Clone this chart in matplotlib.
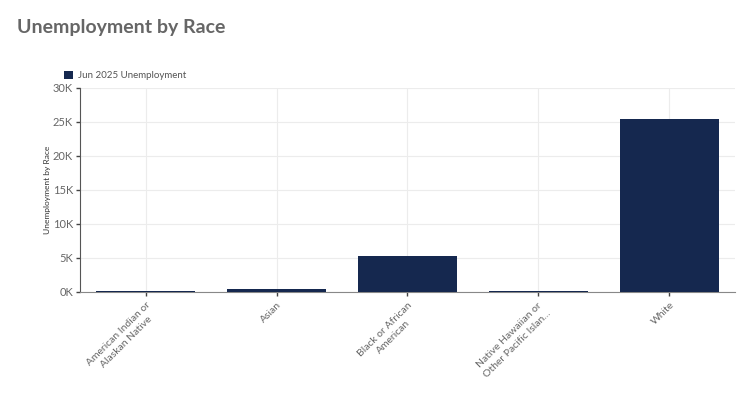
import matplotlib.pyplot as plt

# data
races = ['American Indian or\nAlaskan Native', 'Asian', 'Black or African\nAmerican',
         'Native Hawaiian or\nOther Pacific Islan...', 'White']
unemployment = [150, 420, 5300, 100, 25450]
series_label = 'Jun 2025 Unemployment'
y_ticks = [0, 5000, 10000, 15000, 20000, 25000, 30000]
y_tick_labels = ['0K', '5K', '10K', '15K', '20K', '25K', '30K']

plt.rcParams['font.family'] = ['Lato', 'DejaVu Sans']

fig = plt.figure(figsize=(7.45, 3.93), dpi=100)
ax = fig.add_axes([80 / 745, 1 - 292 / 393, 655 / 745, 204 / 393])

navy = '#15284f'
x = range(len(races))
ax.bar(x, unemployment, width=0.75, color=navy, label=series_label, zorder=3)

ax.set_xlim(-0.5, len(races) - 0.5)
ax.set_ylim(0, 30000)
ax.set_yticks(y_ticks)
ax.set_yticklabels(y_tick_labels)
ax.set_xticks(list(x))
ax.set_xticklabels(races, rotation=45, ha='right', rotation_mode='anchor',
                   multialignment='center', linespacing=1.35)

ax.tick_params(axis='y', labelsize=8, colors='#444444', labelcolor='#666666', length=3, width=1, pad=2)
ax.tick_params(axis='x', labelsize=7.5, colors='#444444', labelcolor='#666666', length=3, width=1, pad=3)

ax.grid(True, color='#ececec', linewidth=0.8, zorder=0)
for s in ['top', 'right']:
    ax.spines[s].set_visible(False)
ax.spines['left'].set_color('#555555')
ax.spines['bottom'].set_color('#888888')

ax.set_ylabel('Unemployment by Race', fontsize=6, color='#333333', labelpad=1)

fig.text(17 / 745, 1 - 28 / 393, 'Unemployment by Race', fontsize=14, fontweight='bold',
         color='#666666', va='center', ha='left')

ax.legend(loc='lower left', bbox_to_anchor=(60 / 745, 1 - 84 / 393), bbox_transform=fig.transFigure,
          frameon=False, fontsize=7, handlelength=0.9, handleheight=0.9, handletextpad=0.5,
          labelcolor='#555555', borderaxespad=0)

fig.savefig('out.png', dpi=100)
